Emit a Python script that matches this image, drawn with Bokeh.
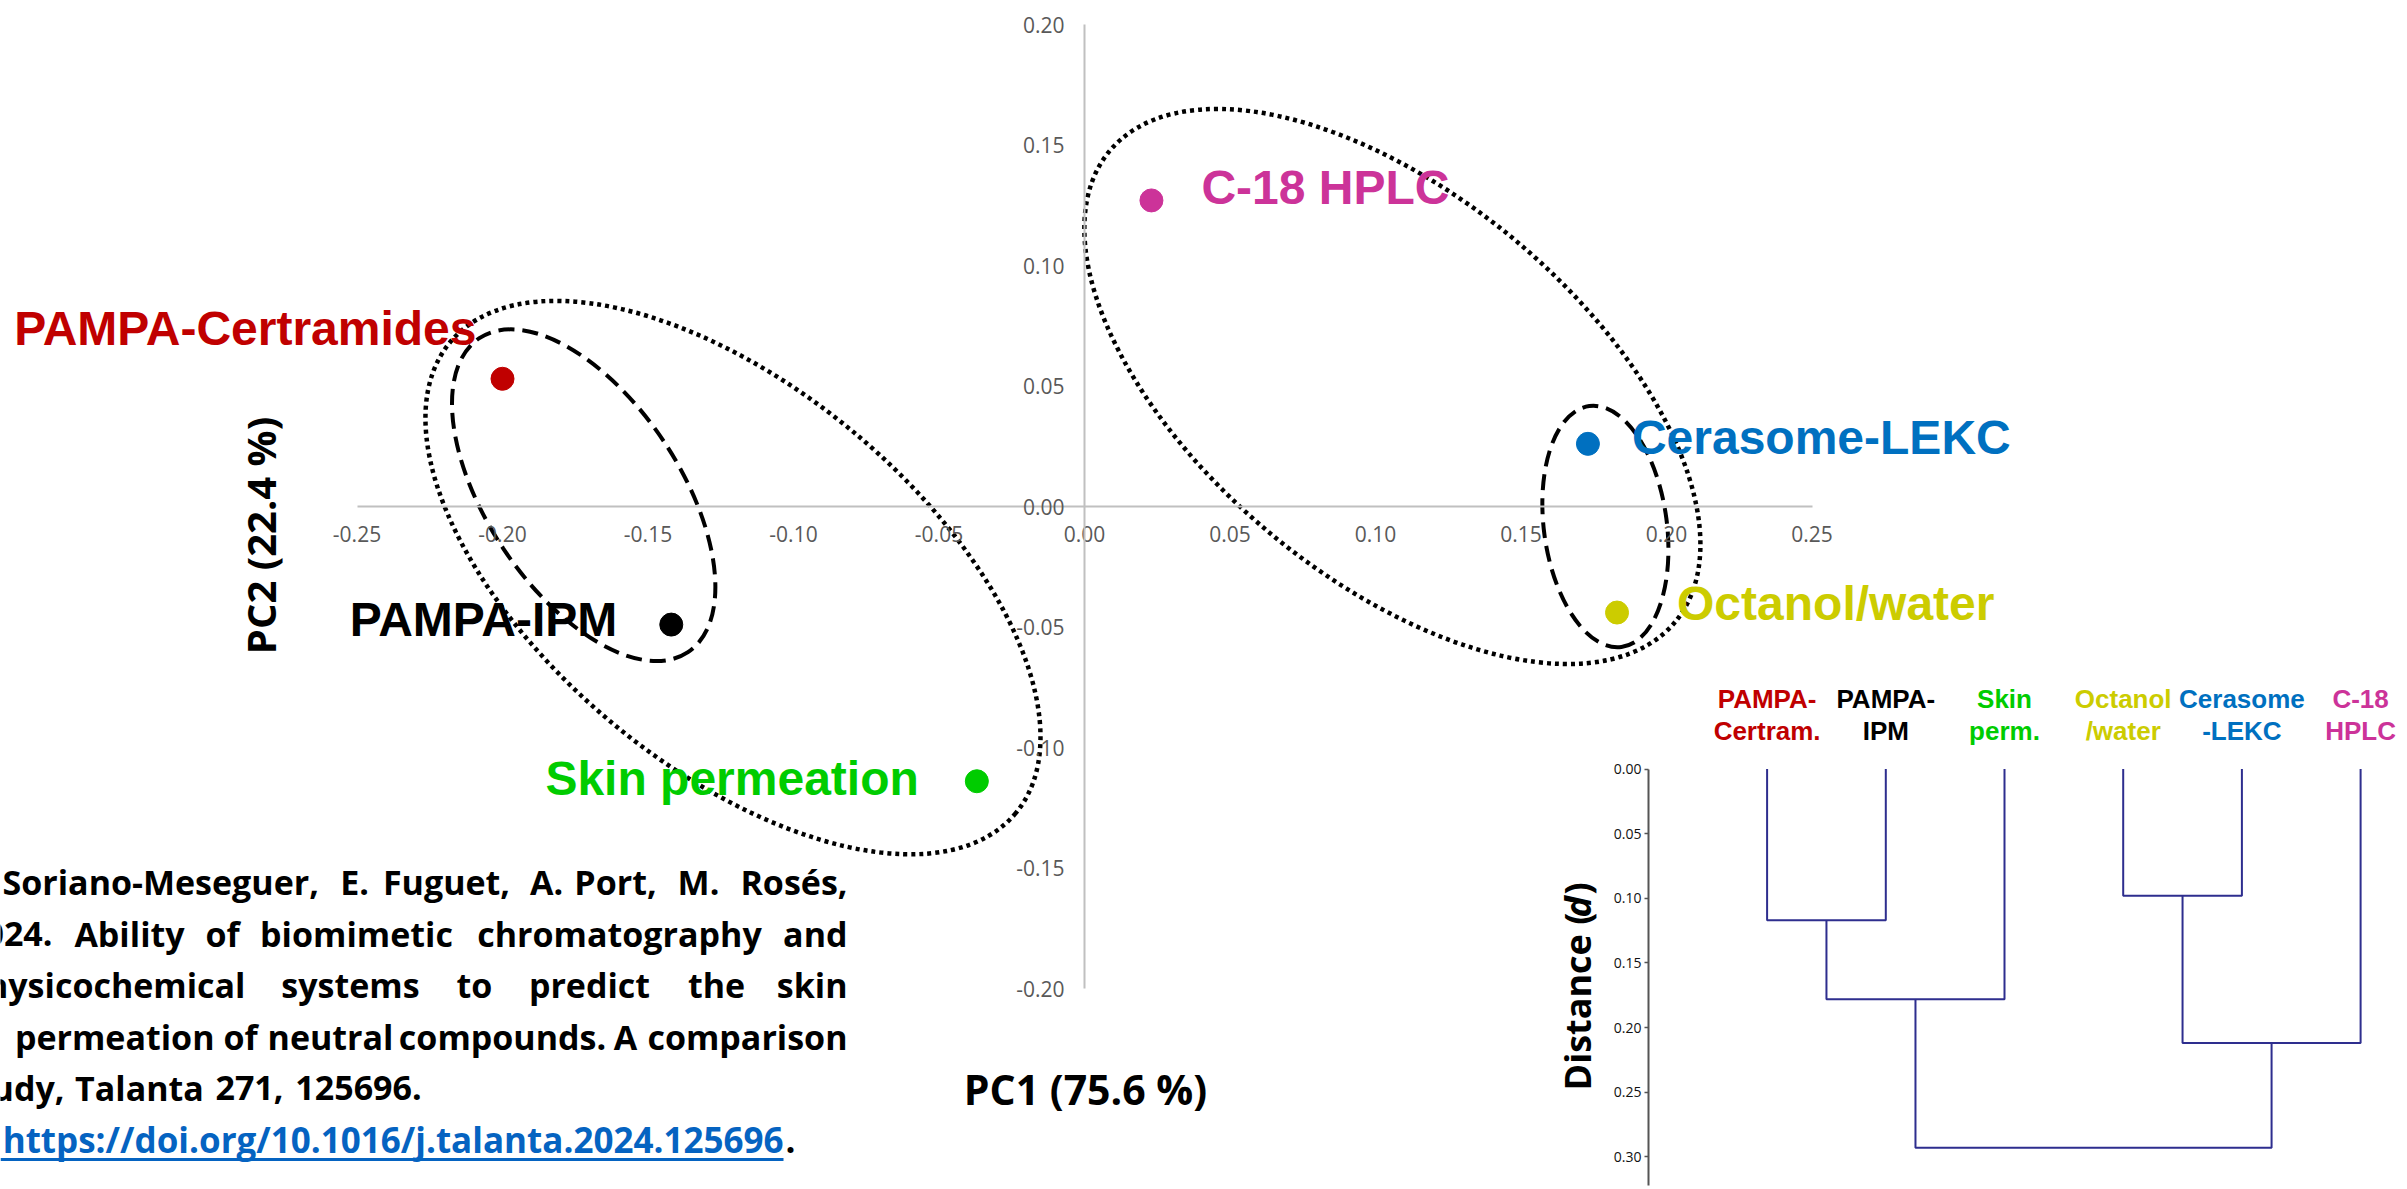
import math

from bokeh.core.properties import value
from bokeh.embed import file_html
from bokeh.models import ColumnDataSource, FixedTicker, LinearAxis, NumeralTickFormatter, Range1d
from bokeh.plotting import figure
from bokeh.resources import INLINE

# ---------------------------------------------------------------- data
# PCA scores of the six permeation / partition systems
systems = ["PAMPA-Certramides", "PAMPA-IPM", "Skin permeation",
           "C-18 HPLC", "Cerasome-LEKC", "Octanol/water"]
pc1 = [-0.200, -0.142, -0.037, 0.023, 0.173, 0.183]
pc2 = [0.053, -0.049, -0.114, 0.127, 0.026, -0.044]
system_colors = ["#C00000", "#000000", "#00CC00", "#CC3399", "#0070C0", "#CCCC00"]

pc1_ticks = [-0.25, -0.20, -0.15, -0.10, -0.05, 0.00, 0.05, 0.10, 0.15, 0.20, 0.25]
pc2_ticks = [-0.20, -0.15, -0.10, -0.05, 0.00, 0.05, 0.10, 0.15, 0.20]

# hierarchical clustering (leaf order, merges as in a linkage table)
leaf_labels = ["PAMPA-\nCertram.", "PAMPA-\nIPM", "Skin\nperm.",
               "Octanol\n/water", "Cerasome\n-LEKC", "C-18\nHPLC"]
leaf_colors = ["#C00000", "#000000", "#00CC00", "#CCCC00", "#0070C0", "#CC3399"]
merge_a = [0, 3, 6, 7, 8]
merge_b = [1, 4, 2, 5, 9]
merge_dist = [0.117, 0.098, 0.178, 0.212, 0.293]
dist_ticks = [0.00, 0.05, 0.10, 0.15, 0.20, 0.25, 0.30]

# ---------------------------------------------------------------- layout
W, H = 2407, 1189
X0_PX, Y0_PX = 1084, 506        # screen position of the PCA origin
SX, SY = 2910, 2410             # pixels per PC unit
LEAF0_PX, LEAF_STEP = 1766.6, 118.7
D0_PX, D_SCALE = 768.5, 1293

p = figure(width=W, height=H,
           x_range=Range1d(-X0_PX / SX, (W - X0_PX) / SX),
           y_range=Range1d(-(H - Y0_PX) / SY, Y0_PX / SY),
           x_axis_type=None, y_axis_type=None,
           toolbar_location=None, output_backend="svg",
           min_border=0, outline_line_color=None,
           background_fill_color="white", border_fill_color="white")

p.extra_x_ranges = {
    "dx": Range1d(-LEAF0_PX / LEAF_STEP, (W - LEAF0_PX) / LEAF_STEP),
    "px": Range1d(0, W),
}
p.extra_y_ranges = {
    "dy": Range1d((H - D0_PX) / D_SCALE, -D0_PX / D_SCALE),
    "py": Range1d(H, 0),
}

# ---------------------------------------------------------------- PCA axes
axis_style = dict(
    axis_line_color="#C0C0C0", axis_line_width=2,
    major_tick_in=0, major_tick_out=0, major_tick_line_color=None,
    minor_tick_line_color=None,
    formatter=NumeralTickFormatter(format="0.00"),
    major_label_text_font="Open Sans", major_label_text_font_size="21px",
    major_label_text_color="#595959",
)
xaxis = LinearAxis(fixed_location=0, bounds=(-0.25, 0.25),
                   ticker=FixedTicker(ticks=pc1_ticks),
                   major_label_standoff=19, **axis_style)
yaxis = LinearAxis(fixed_location=0, bounds=(-0.20, 0.20),
                   ticker=FixedTicker(ticks=pc2_ticks),
                   major_label_standoff=20, **axis_style)
p.add_layout(xaxis, "below")
p.add_layout(yaxis, "left")

# grouping ellipses (screen-size outlines)
dotted = ColumnDataSource(dict(x=[-0.1208, 0.1058], y=[-0.0295, 0.0498],
                               w=[736, 736], h=[378, 382], a=[-39.8, -39.8]))
dashed = ColumnDataSource(dict(x=[-0.1721, 0.1790], y=[0.0047, -0.0083],
                               w=[377, 243], h=[193, 123], a=[-56.4, -82.4]))
p.ellipse(x="x", y="y", width="w", height="h", angle="a", angle_units="deg",
          width_units="screen", height_units="screen", source=dotted,
          fill_color=None, line_color="black", line_width=4.5, line_dash="4 4")
p.ellipse(x="x", y="y", width="w", height="h", angle="a", angle_units="deg",
          width_units="screen", height_units="screen", source=dashed,
          fill_color=None, line_color="black", line_width=4, line_dash="16 8")

# score points
pts = ColumnDataSource(dict(pc1=pc1, pc2=pc2, color=system_colors, name=systems))
p.scatter("pc1", "pc2", source=pts, size=23, fill_color="color", line_color="color")

# point labels: alignment and pixel offsets from each point
label_align = ["right", "right", "right", "left", "left", "left"]
label_dx = [-26, -54, -58, 50, 44, 60]
label_dy = [-50, -5, -3, -13, -6, -9]
for i, name in enumerate(systems):
    p.text(x=[pc1[i]], y=[pc2[i]], text=[name], x_offset=label_dx[i], y_offset=label_dy[i],
           text_align=label_align[i], text_baseline="middle",
           text_font=value("Liberation Sans"), text_font_style="bold",
           text_font_size="48px", text_color=system_colors[i])

# axis titles
p.text(x=[1085], y=[1088], text=["PC1 (75.6 %)"], x_range_name="px", y_range_name="py",
       text_align="center", text_baseline="middle", text_font=value("Open Sans"),
       text_font_style="bold", text_font_size="41px", text_color="black")
p.text(x=[260], y=[535], text=["PC2 (22.4 %)"], x_range_name="px", y_range_name="py",
       angle=math.pi / 2, text_align="center", text_baseline="middle",
       text_font=value("Open Sans"), text_font_style="bold", text_font_size="40px",
       text_color="black")

# ---------------------------------------------------------------- dendrogram
node_x = list(range(len(leaf_labels)))
node_d = [0.0] * len(leaf_labels)
xs, ys = [], []
for a, b, d in zip(merge_a, merge_b, merge_dist):
    xs.append([node_x[a], node_x[a], node_x[b], node_x[b]])
    ys.append([node_d[a], d, d, node_d[b]])
    node_x.append((node_x[a] + node_x[b]) / 2)
    node_d.append(d)
p.multi_line(xs, ys, x_range_name="dx", y_range_name="dy",
             line_color="#2E2E8E", line_width=2)

daxis = LinearAxis(x_range_name="dx", y_range_name="dy", fixed_location=-1.0,
                   bounds=(0, 0.322), ticker=FixedTicker(ticks=dist_ticks),
                   formatter=NumeralTickFormatter(format="0.00"),
                   axis_line_color="#555555", axis_line_width=2,
                   major_tick_in=0, major_tick_out=4, major_tick_line_color="#555555",
                   major_tick_line_width=1.5, minor_tick_line_color=None,
                   major_label_standoff=3, major_label_text_font="Open Sans",
                   major_label_text_font_size="14px", major_label_text_color="#111111")
p.add_layout(daxis, "left")

for i, lab in enumerate(leaf_labels):
    top, bottom = lab.split("\n")
    for txt, ypx in ((top, 698), (bottom, 730)):
        p.text(x=[i], y=[ypx], text=[txt], x_range_name="dx", y_range_name="py",
               text_align="center", text_baseline="middle",
               text_font=value("Liberation Sans"), text_font_style="bold",
               text_font_size="26px", text_color=leaf_colors[i])

# "Distance (d)" with an italic d, reading upwards
for txt, ypx, style in (("Distance (", 1090, "bold"), ("d", 917, "bold italic"), (")", 894, "bold")):
    p.text(x=[1577], y=[ypx], text=[txt], x_range_name="px", y_range_name="py",
           angle=math.pi / 2, text_align="left", text_baseline="middle",
           text_font=value("Open Sans"), text_font_style=style,
           text_font_size="36px", text_color="black")

# ---------------------------------------------------------------- reference block
cite = [
    (881, [("Soriano-Meseguer,", 2, "left"), ("E.", 354, "center"), ("Fuguet,", 446, "center"),
           ("A.", 546, "center"), ("Port,", 615, "center"), ("M.", 698, "center"),
           ("Rosés,", 847, "right")]),
    (933, [("2024.", 52, "right"), ("Ability", 129, "center"), ("of", 222, "center"),
           ("biomimetic", 356, "center"), ("chromatography", 619, "center"),
           ("and", 847, "right")]),
    (984, [("physicochemical", 245, "right"), ("systems", 350, "center"), ("to", 474, "center"),
           ("predict", 589, "center"), ("the", 716, "center"), ("skin", 847, "right")]),
    (1036, [("permeation", 214, "right"), ("of", 240, "center"), ("neutral", 330, "center"),
            ("compounds.", 502, "center"), ("A", 625, "center"), ("comparison", 847, "right")]),
    (1087, [("study,", 64, "right"), ("Talanta", 139, "center"), ("271,", 249, "center"),
            ("125696.", 358, "center")]),
]
for ypx, words in cite:
    for word, xpx, align in words:
        p.text(x=[xpx], y=[ypx], text=[word], x_range_name="px", y_range_name="py",
               text_align=align, text_baseline="middle", text_font=value("Open Sans"),
               text_font_style="bold", text_font_size="34px", text_color="black")

p.text(x=[783], y=[1139], text=["https://doi.org/10.1016/j.talanta.2024.125696"],
       x_range_name="px", y_range_name="py", text_align="right", text_baseline="middle",
       text_font=value("Open Sans"), text_font_style="bold", text_font_size="35px",
       text_color="#0563C1")
p.text(x=[785], y=[1139], text=["."], x_range_name="px", y_range_name="py",
       text_align="left", text_baseline="middle", text_font=value("Open Sans"),
       text_font_style="bold", text_font_size="35px", text_color="black")
p.segment(x0=[0], y0=[1159], x1=[783], y1=[1159], x_range_name="px", y_range_name="py",
          line_color="#0563C1", line_width=3)

open("out.html", "w").write(file_html(p, INLINE))
